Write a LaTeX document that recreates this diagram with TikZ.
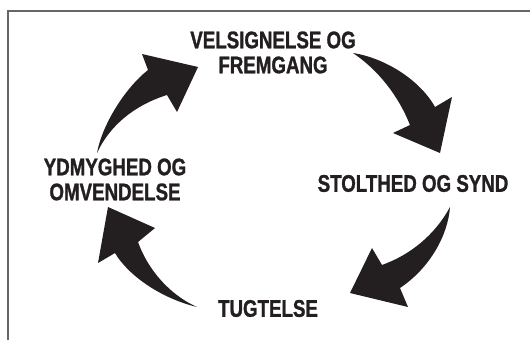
\documentclass[tikz,border=0pt]{standalone}
\usepackage{fontspec}
\newfontfamily\cyclefont[FakeStretch=0.78, BoldFeatures={FakeBold=1.2}]{Liberation Sans}
\definecolor{ink}{HTML}{231F20}
\tikzset{
  stage/.style={align=center, inner sep=0pt, text=ink,
                font=\cyclefont\bfseries\fontsize{24}{25}\selectfont},
  bigarrow/.style={fill=ink, draw=none}
}
\begin{document}
\begin{tikzpicture}[x=1pt, y=-1pt]
\useasboundingbox (0,0) rectangle (530,340);
\draw [gray!80!black, line width=1.2pt] (8,340) -- (8,11) coordinate (corner) -- (530,11);
\node [stage] (blessing)   at (273,52.5)  {VELSIGNELSE OG\\FREMGANG};
\node [stage] (pride)      at (413,183.5) {STOLTHED OG SYND};
\node [stage] (discipline) at (268,308.5) {TUGTELSE};
\node [stage] (humility)   at (115,179.5) {YDMYGHED OG\\OMVENDELSE};
% humility -> blessing
\fill [bigarrow] (97,153) .. controls (102,125) and (125,88) .. (148,70)
            -- (142,54) -- (198,67) -- (177,112) -- (167,95)
            .. controls (135,105) and (110,125) .. (97,153) -- cycle;
% blessing -> pride
\fill [bigarrow] (353,53) .. controls (385,58) and (420,80) .. (435,107)
            -- (452,97) -- (440,153) -- (393,133) -- (410,125)
            .. controls (398,95) and (378,70) .. (353,53) -- cycle;
% pride -> discipline
\fill [bigarrow] (450,207) .. controls (448,235) and (430,268) .. (400,288)
            -- (408,307) -- (350,293) -- (372,248) -- (382,265)
            .. controls (410,255) and (435,235) .. (450,207) -- cycle;
% discipline -> humility
\fill [bigarrow] (197,307) .. controls (160,298) and (128,275) .. (115,253)
            -- (98,263) -- (108,207) -- (155,228) -- (138,242)
            .. controls (148,270) and (170,295) .. (197,307) -- cycle;
\end{tikzpicture}
\end{document}
